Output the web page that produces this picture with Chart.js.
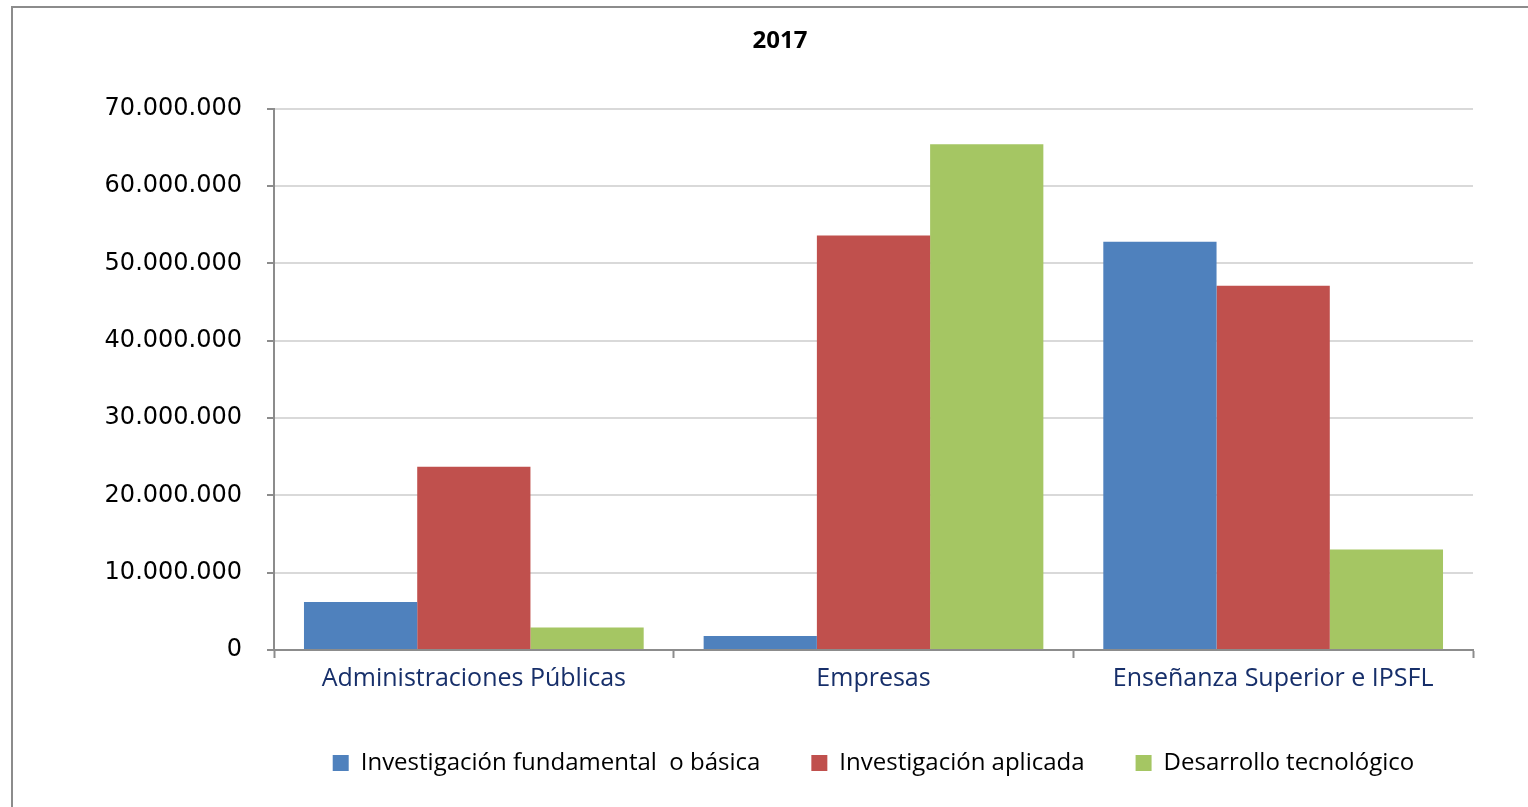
<!DOCTYPE html>
<html>
<head>
<meta charset="utf-8">
<script src="https://cdn.jsdelivr.net/npm/chart.js@4.4.0/dist/chart.umd.min.js"></script>
<style>
  html, body { margin: 0; padding: 0; background: #fff; overflow: hidden; }
  #frame {
    position: absolute; left: 11px; top: 6px;
    width: 1534px; height: 810px;
    border: 2px solid #8c8c8c;
  }
  #wrap { position: absolute; left: 0; top: 0; width: 1534px; height: 800px; }
</style>
</head>
<body>
<div id="frame"><div id="wrap"><canvas id="barChart"></canvas></div></div>
<script>
	// categorias y series (euros)
	var categories = ['Administraciones Públicas', 'Empresas', 'Enseñanza Superior e IPSFL'];
	var basica = [6200000, 1800000, 52800000];
	var aplicada = [23700000, 53600000, 47100000];
	var desarrollo = [2900000, 65400000, 13000000];
	var seriesNames = ['Investigación fundamental  o básica', 'Investigación aplicada', 'Desarrollo tecnológico'];
	var yTicks = [0, 10000000, 20000000, 30000000, 40000000, 50000000, 60000000, 70000000];

	function miles(v) {
		return String(v).replace(/\B(?=(\d{3})+(?!\d))/g, '.');
	}

	var chartData = {
		type: 'bar',
		data: {
			labels: categories,
			datasets: [
				{ label: seriesNames[0], data: basica, backgroundColor: '#4F81BD' },
				{ label: seriesNames[1], data: aplicada, backgroundColor: '#C0504D' },
				{ label: seriesNames[2], data: desarrollo, backgroundColor: '#A5C663' }
			]
		},
		options: {
			responsive: true,
			maintainAspectRatio: false,
			animation: false,
			datasets: {
				bar: { categoryPercentage: 0.85, barPercentage: 1.0 }
			},
			layout: { padding: { left: 0, right: 0, top: 0, bottom: 23 } },
			plugins: {
				title: {
					display: true,
					text: '2017',
					color: '#000',
					font: { family: 'Open Sans', size: 24, weight: 'bold' },
					padding: { top: 19, bottom: 53 }
				},
				legend: {
					position: 'bottom',
					fullSize: false,
					labels: {
						color: '#000',
						font: { family: 'Open Sans', size: 24 },
						boxWidth: 16,
						boxHeight: 16,
						padding: 51
					}
				},
				tooltip: { enabled: false }
			},
			scales: {
				x: {
					grid: {
						drawOnChartArea: false,
						drawTicks: true,
						tickLength: 8,
						tickColor: '#8c8c8c',
						tickWidth: 2
					},
					border: { color: '#8c8c8c', width: 2 },
					ticks: {
						color: '#172F6A',
						font: { family: 'Open Sans', size: 25 },
						padding: 6,
						maxRotation: 0
					}
				},
				y: {
					min: 0,
					max: 70000000,
					afterBuildTicks: function(axis) {
						axis.ticks = yTicks.map(function(v) { return { value: v }; });
					},
					afterFit: function(axis) { axis.width = 261; },
					grid: {
						color: '#d9d9d9',
						lineWidth: 2,
						tickLength: 7,
						tickColor: '#8c8c8c',
						tickWidth: 2
					},
					border: { color: '#8c8c8c', width: 2 },
					ticks: {
						color: '#000',
						font: { family: 'DejaVu Sans', size: 24 },
						padding: 25,
						callback: function(v) { return miles(v); }
					}
				},
				// eje vacio a la derecha, solo para dejar el margen del grafico original
				margen: {
					position: 'right',
					display: true,
					grid: { display: false },
					border: { display: false },
					ticks: { display: false },
					afterFit: function(axis) { axis.width = 74; }
				}
			}
		}
	};

	new Chart(document.getElementById('barChart'), chartData);
</script>
</body>
</html>
